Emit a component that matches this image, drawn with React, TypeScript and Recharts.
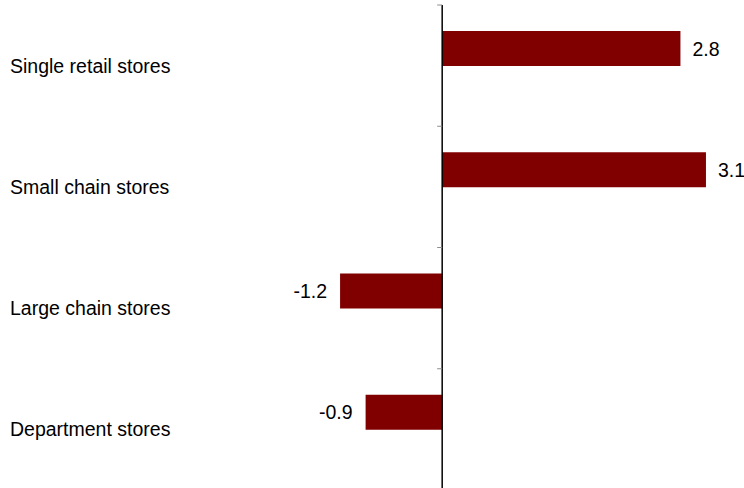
import React from 'react';
import { BarChart, Bar, XAxis, YAxis, ReferenceLine, LabelList } from 'recharts';

const categories = ['Single retail stores', 'Small chain stores', 'Large chain stores', 'Department stores'];
const changeValues = [2.8, 3.1, -1.2, -0.9];
// second (empty) series keeps the bar in the upper half of each band, like the original
const emptyValues = [null, null, null, null];

const data = categories.map((name, i) => ({ name, change: changeValues[i], empty: emptyValues[i] }));

const W = 744;
const H = 488;
const MARGIN = { top: 5, right: 4, bottom: -2, left: 0 };
const AXIS_W = 272;
const X_MIN = -2;
const X_MAX = 3.5;
const PLOT_W = W - MARGIN.left - MARGIN.right - AXIS_W;
const PLOT_H = H - MARGIN.top - MARGIN.bottom;
const ZERO_X = MARGIN.left + AXIS_W + ((0 - X_MIN) / (X_MAX - X_MIN)) * PLOT_W;
const HALF_BAND = PLOT_H / categories.length / 2;

const FONT = '"Liberation Sans", Arial, sans-serif';
const FONT_SIZE = 19.5;
const BAR_COLOR = '#800000';

const CategoryTick = (props: any) => {
  const { y, payload, index } = props;
  const last = index === categories.length - 1;
  return (
    <g>
      <line x1={ZERO_X - 5} x2={ZERO_X} y1={y - HALF_BAND} y2={y - HALF_BAND} stroke="#8c8c8c" strokeWidth={1} />
      {last && <line x1={ZERO_X - 5} x2={ZERO_X} y1={y + HALF_BAND} y2={y + HALF_BAND} stroke="#8c8c8c" strokeWidth={1} />}
      <text x={10} y={y} dy="0.36em" textAnchor="start" fontSize={FONT_SIZE} fontFamily={FONT} fill="#000">
        {payload.value}
      </text>
    </g>
  );
};

const ValueLabel = (props: any) => {
  const { x, y, width, height, value } = props;
  if (value == null) return null;
  const left = Math.min(x, x + width);
  const right = Math.max(x, x + width);
  const positive = value >= 0;
  return (
    <text
      x={positive ? right + 12 : left - 13}
      y={y + height / 2}
      dy="0.36em"
      textAnchor={positive ? 'start' : 'end'}
      fontSize={FONT_SIZE}
      fontFamily={FONT}
      fill="#000"
    >
      {value.toFixed(1)}
    </text>
  );
};

export default function App() {
  return (
    <div style={{ position: 'absolute', left: 0, top: 0, width: W, height: H, background: '#fff', overflow: 'hidden' }}>
      <BarChart width={W} height={H} data={data} layout="vertical" margin={MARGIN} barGap={0}>
        <XAxis type="number" domain={[X_MIN, X_MAX]} hide allowDataOverflow />
        <YAxis type="category" dataKey="name" width={AXIS_W} axisLine={false} tickLine={false} tick={<CategoryTick />} interval={0} />
        <Bar dataKey="change" fill={BAR_COLOR} barSize={35} isAnimationActive={false}>
          <LabelList dataKey="change" content={<ValueLabel />} />
        </Bar>
        <Bar dataKey="empty" fill={BAR_COLOR} barSize={35} isAnimationActive={false} />
        <ReferenceLine x={0} stroke="#000" strokeWidth={1.5} />
      </BarChart>
    </div>
  );
}
